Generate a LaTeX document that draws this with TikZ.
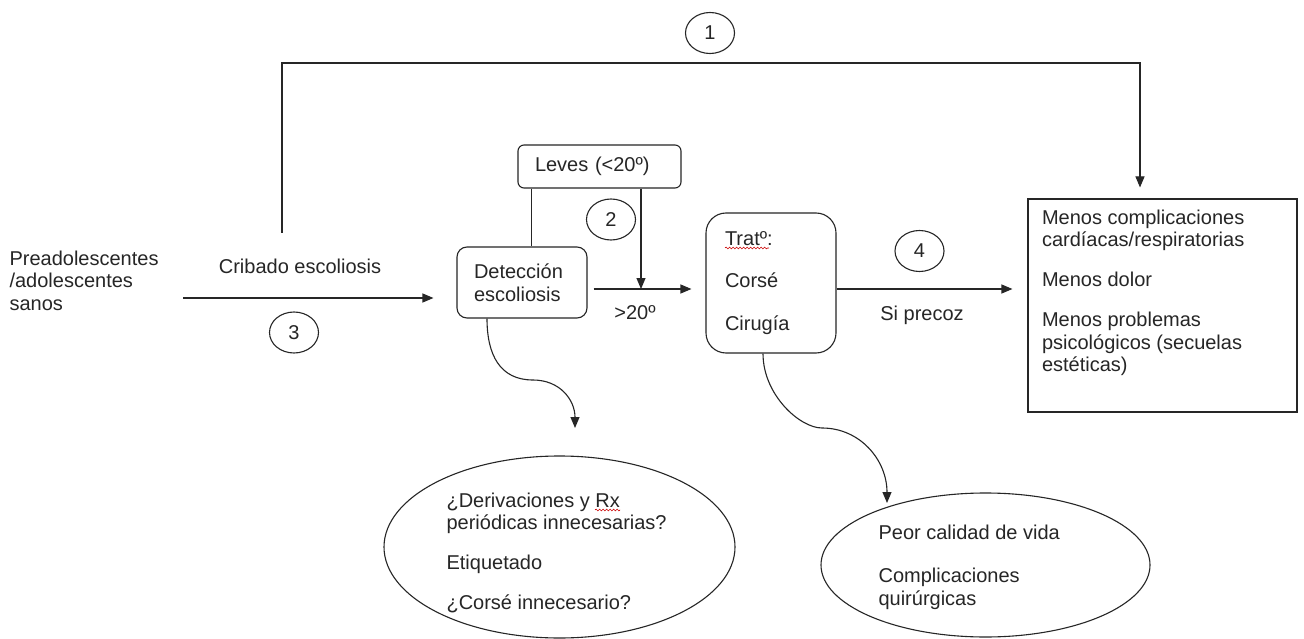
\documentclass[tikz,border=0pt]{standalone}
\usepackage{fontspec}
\setmainfont{Liberation Sans}
\usetikzlibrary{positioning,shapes.geometric,arrows.meta,decorations.pathmorphing}

\begin{document}
\begin{tikzpicture}[x=1pt, y=-1pt, line width=1.1pt, color=black!85,
	font=\fontsize{20}{22.5}\selectfont,
	>={Triangle[length=11pt,width=9pt]},
	box/.style={draw, rounded corners=#1, align=left, inner xsep=17pt, inner ysep=0pt},
	box/.default=8pt,
	num/.style={draw, ellipse, minimum width=49pt, minimum height=41pt, inner sep=0pt},
	txt/.style={align=left, inner sep=0pt},
	squig/.style={red!80!black, line width=0.6pt, decorate, decoration={snake, amplitude=0.9pt, segment length=3.5pt}}]
	\useasboundingbox (0,0) rectangle (1304,639);
	\fill[white] (0,0) rectangle (1304,639);

	\draw
	node[box=6pt, text width=129pt, minimum height=43pt] (leves) at (599.5,166.5) {Leves (<20º)}
	node[box=10pt, text width=96pt, minimum height=71pt] (det) at (522,282.5) {Detección\\escoliosis}
	node[box=20pt, inner xsep=19pt, text width=92pt, minimum height=140pt] (trat) at (771,283) {Tratº:\\[20pt]Corsé\\[20pt]Cirugía}
	node[draw, minimum width=269pt, minimum height=213pt, inner sep=0pt] (benef) at (1162.5,305.5) {};

	\draw
	node[txt, anchor=north west] (pre) at (9,250) {Preadolescentes\\/adolescentes\\sanos}
	node (crib) at (300,266) {Cribado escoliosis}
	node (gtlbl) at (635,313) {>20º}
	node (sipre) at (922,315) {Si precoz}
	node[txt, below right=11pt and 14pt of benef.north west] (beneftxt) {Menos complicaciones\\cardíacas/respiratorias\\[17.5pt]Menos dolor\\[17.5pt]Menos problemas\\psicológicos (secuelas\\estéticas)};

	\draw
	node[num] (n1) at (710,33) {1}
	node[num] (n2) at (611,219.5) {2}
	node[num] (n3) at (294,332.5) {3}
	node[num] (n4) at (919.5,251) {4};

	\draw
	node[draw, ellipse, minimum width=351pt, minimum height=182pt, inner sep=0pt] (ell1) at (559.5,547) {}
	node[draw, ellipse, minimum width=329pt, minimum height=144pt, inner sep=0pt] (ell2) at (985.5,565) {};

	\draw
	node[txt, anchor=north west] (ell1txt) at (446,492) {¿Derivaciones y Rx\\periódicas innecesarias?\\[17.5pt]Etiquetado\\[17.5pt]¿Corsé innecesario?}
	node[txt, anchor=north west] (ell2txt) at (878,524) {Peor calidad de vida\\[21pt]Complicaciones\\quirúrgicas};

	% 1: cribado directo a beneficios
	\coordinate (c1) at (282,233);
	\coordinate (c1top) at (1140,63);
	\draw[->, shorten >=11pt] (c1) |- (c1top) -- (c1top |- benef.north);

	% 3: cribado
	\coordinate (c3) at (183,298);
	\draw[->, shorten >=23pt] (c3) -- (c3 -| det.west);

	% 2: leves / >20
	\coordinate (gt) at (641,289);
	\draw ([xshift=14pt]leves.south west) -- ([xshift=14pt]leves.south west |- det.north);
	\draw[->] (leves.south -| gt) -- (gt);
	\draw[->, shorten <=6pt, shorten >=14pt] (det.east |- gt) -- (trat.west |- gt);

	% 4: tratamiento precoz
	\draw[->, shorten >=15pt] (trat.east |- gt) -- (benef.west |- gt);

	% efectos adversos
	\coordinate (e1) at (575,428);
	\coordinate (e2) at (887,503);
	\draw[->] ([xshift=-35pt]det.south) .. controls (487,355) and (500,380) .. (533,380) .. controls (560,380) and (575,400) .. (e1);
	\draw[->] ([xshift=-8pt]trat.south) .. controls (763,395) and (800,428) .. (822,428) .. controls (860,428) and (887,460) .. (e2);

	\draw[squig] (725,248) -- (769,248);
	\draw[squig] (595,510) -- (620,510);
\end{tikzpicture}
\end{document}
